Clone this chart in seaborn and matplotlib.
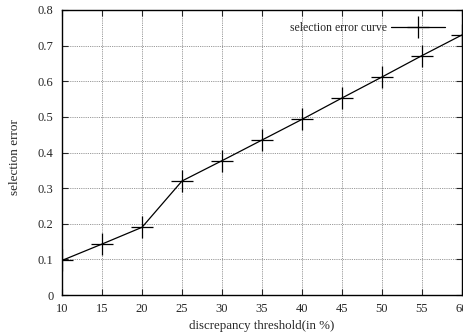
import numpy as np
import pandas as pd
import matplotlib
matplotlib.use("Agg")
import matplotlib.pyplot as plt
import seaborn as sns

# datos
threshold = [10, 15, 20, 25, 30, 35, 40, 45, 50, 55, 60]
sel_error = [0.097, 0.143, 0.190, 0.320, 0.377, 0.435, 0.493, 0.553, 0.612, 0.672, 0.730]
x_ticks = [10, 15, 20, 25, 30, 35, 40, 45, 50, 55, 60]
y_ticks = [0, 0.1, 0.2, 0.3, 0.4, 0.5, 0.6, 0.7, 0.8]
y_tick_labels = ["0", "0.1", "0.2", "0.3", "0.4", "0.5", "0.6", "0.7", "0.8"]

df = pd.DataFrame({"threshold": threshold, "error": sel_error})

sns.set_style("ticks")
plt.rcParams["font.family"] = ["Liberation Serif", "DejaVu Serif"]

fig = plt.figure(figsize=(4.64, 3.36), dpi=100)
ax = fig.add_axes([62 / 464, 1 - 295 / 336, 400 / 464, 285 / 336])

sns.lineplot(data=df, x="threshold", y="error", ax=ax, color="black", lw=0.9,
             marker="+", markersize=16, markeredgewidth=0.9,
             markeredgecolor="black", markerfacecolor="black",
             label="selection error curve")

ax.set_xlim(10, 60)
ax.set_ylim(0, 0.8)
ax.set_xticks(x_ticks)
ax.set_yticks(y_ticks)
ax.set_yticklabels(y_tick_labels)
ax.tick_params(direction="in", length=4, width=0.8, labelsize=9, pad=6,
               top=True, right=True)
ax.grid(True, linestyle=(0, (1, 1.2)), color="#777777", lw=0.6)
for s in ax.spines.values():
    s.set_linewidth(1.0)
    s.set_color("black")

ax.set_xlabel("discrepancy threshold(in %)", fontsize=9.3, labelpad=3)
ax.set_ylabel("selection error", fontsize=9.5)
ax.yaxis.set_label_coords(-0.1025, 0.484)

leg = ax.legend(loc="upper right", bbox_to_anchor=(0.9575, 0.958), frameon=False,
                fontsize=8.5, handlelength=4.6, handletextpad=0.35,
                markerfirst=False, borderaxespad=0, borderpad=0)

fig.savefig("out.png", dpi=100)
